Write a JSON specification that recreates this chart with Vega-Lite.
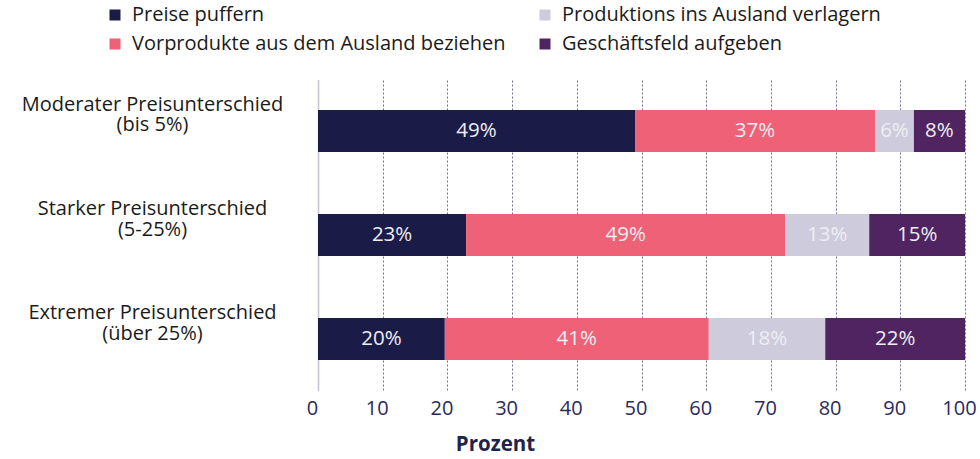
{
  "$schema": "https://vega.github.io/schema/vega-lite/v6.json",
  "autosize": "none",
  "width": 647,
  "height": 310,
  "padding": {"left": 318, "top": 80, "right": 15, "bottom": 69},
  "background": "white",
  "config": {"font": "Open Sans", "view": {"stroke": null}},
  "data": {
    "values": [
      {"grp": "Moderater Preisunterschied|(bis 5%)", "cat": "Preise puffern", "ord": 1, "v": 49.0, "lab": "49%"},
      {"grp": "Moderater Preisunterschied|(bis 5%)", "cat": "Vorprodukte aus dem Ausland beziehen", "ord": 2, "v": 37.1, "lab": "37%"},
      {"grp": "Moderater Preisunterschied|(bis 5%)", "cat": "Produktions ins Ausland verlagern", "ord": 3, "v": 6.0, "lab": "6%"},
      {"grp": "Moderater Preisunterschied|(bis 5%)", "cat": "Geschäftsfeld aufgeben", "ord": 4, "v": 7.9, "lab": "8%"},
      {"grp": "Starker Preisunterschied|(5-25%)", "cat": "Preise puffern", "ord": 1, "v": 22.9, "lab": "23%"},
      {"grp": "Starker Preisunterschied|(5-25%)", "cat": "Vorprodukte aus dem Ausland beziehen", "ord": 2, "v": 49.3, "lab": "49%"},
      {"grp": "Starker Preisunterschied|(5-25%)", "cat": "Produktions ins Ausland verlagern", "ord": 3, "v": 13.0, "lab": "13%"},
      {"grp": "Starker Preisunterschied|(5-25%)", "cat": "Geschäftsfeld aufgeben", "ord": 4, "v": 14.8, "lab": "15%"},
      {"grp": "Extremer Preisunterschied|(über 25%)", "cat": "Preise puffern", "ord": 1, "v": 19.6, "lab": "20%"},
      {"grp": "Extremer Preisunterschied|(über 25%)", "cat": "Vorprodukte aus dem Ausland beziehen", "ord": 2, "v": 40.8, "lab": "41%"},
      {"grp": "Extremer Preisunterschied|(über 25%)", "cat": "Produktions ins Ausland verlagern", "ord": 3, "v": 18.0, "lab": "18%"},
      {"grp": "Extremer Preisunterschied|(über 25%)", "cat": "Geschäftsfeld aufgeben", "ord": 4, "v": 21.6, "lab": "22%"}
    ]
  },
  "encoding": {
    "y": {
      "field": "grp", "type": "nominal", "sort": null,
      "scale": {"paddingInner": 0.596, "paddingOuter": 0.288},
      "axis": {
        "title": null, "ticks": false, "domain": true, "domainColor": "#c4c4d4", "domainWidth": 1.5,
        "labelExpr": "split(datum.label, '|')",
        "labelAlign": "center", "labelPadding": 166, "labelOffset": -26,
        "labelFontSize": 20, "labelColor": "#1a1a1a", "labelLineHeight": 20.5, "labelLimit": 400
      }
    },
    "x": {
      "field": "v", "type": "quantitative", "stack": "zero",
      "scale": {"domain": [0, 100], "nice": false},
      "axis": {
        "title": "Prozent", "titleFontSize": 20.5, "titleFontWeight": "bold", "titleColor": "#22224a",
        "titleX": 177, "titleY": 44, "titleBaseline": "top", "titleAlign": "center",
        "values": [0,10,20,30,40,50,60,70,80,90,100],
        "domain": false, "ticks": false,
        "grid": true, "gridColor": "#6c6c8c", "gridDash": [2, 2], "gridWidth": 1,
        "labelFontSize": 20, "labelColor": "#2a2a5a", "labelPadding": 8, "labelOffset": -6, "labelFlush": false
      }
    },
    "order": {"field": "ord", "type": "quantitative"}
  },
  "layer": [
    {
      "mark": {"type": "bar", "strokeWidth": 0},
      "encoding": {
        "color": {
          "field": "cat", "type": "nominal",
          "scale": {
            "domain": ["Preise puffern", "Vorprodukte aus dem Ausland beziehen", "Produktions ins Ausland verlagern", "Geschäftsfeld aufgeben"],
            "range": ["#1b1b48", "#ef6176", "#cdcbdc", "#4f2460"]
          },
          "legend": {
            "title": null, "orient": "none", "legendX": -213, "legendY": -75,
            "columns": 2, "columnPadding": 29, "rowPadding": 9,
            "symbolType": "square", "symbolSize": 121, "symbolStrokeWidth": 0,
            "labelFontSize": 20, "labelColor": "#1a1a1a", "labelLimit": 500, "labelOffset": 7
          }
        }
      }
    },
    {
      "mark": {"type": "text", "fontSize": 20.5, "color": "#eeeef4"},
      "encoding": {
        "x": {"field": "v", "type": "quantitative", "stack": "zero", "bandPosition": 0.5},
        "text": {"field": "lab"}
      }
    }
  ]
}
